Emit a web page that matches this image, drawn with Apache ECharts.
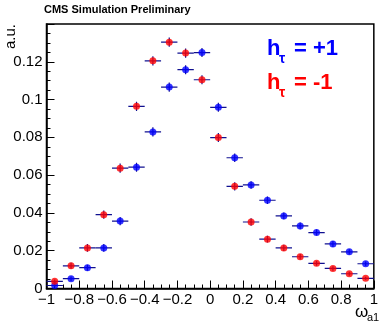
<!DOCTYPE html>
<html>
<head>
<meta charset="utf-8">
<script src="https://cdn.jsdelivr.net/npm/echarts@6/dist/echarts.min.js"></script>
<style>
html,body{margin:0;padding:0;background:#fff;}
#c{width:381px;height:321px;}
</style>
</head>
<body>
<div id="c"></div>
<script>
// ---- data ----
const binCenters = [-0.95,-0.85,-0.75,-0.65,-0.55,-0.45,-0.35,-0.25,-0.15,-0.05,0.05,0.15,0.25,0.35,0.45,0.55,0.65,0.75,0.85,0.95];
const binWidth = 0.1;
const bluePlus = [0.0016,0.0052,0.0110,0.0215,0.0357,0.0642,0.0829,0.1066,0.1158,0.1249,0.0959,0.0692,0.0548,0.0467,0.0384,0.0331,0.0296,0.0236,0.0194,0.0131];
const blueErr  = [0.0008,0.0012,0.0016,0.0020,0.0022,0.0024,0.0024,0.0024,0.0024,0.0024,0.0024,0.0022,0.0020,0.0020,0.0018,0.0018,0.0016,0.0016,0.0014,0.0012];
const redMinus = [0.0038,0.0120,0.0215,0.0391,0.0637,0.0964,0.1205,0.1304,0.1246,0.1105,0.0799,0.0541,0.0352,0.0261,0.0215,0.0168,0.0133,0.0106,0.0078,0.0054];
const redErr   = [0.0010,0.0016,0.0020,0.0022,0.0024,0.0024,0.0024,0.0024,0.0024,0.0024,0.0024,0.0022,0.0020,0.0018,0.0016,0.0014,0.0012,0.0012,0.0010,0.0008];
const xTicks = [-1,-0.8,-0.6,-0.4,-0.2,0,0.2,0.4,0.6,0.8,1];
const yTicks = [0,0.02,0.04,0.06,0.08,0.1,0.12];
const titleText = 'CMS Simulation Preliminary';
const yTitle = 'a.u.';

const FONT = '"Liberation Sans", Arial, Helvetica, sans-serif';
const barColor = '#101090';

function triples(vals, errs){ return binCenters.map((x,i)=>[x, vals[i], errs[i]]); }

function errRender(params, api){
  const x = api.value(0), y = api.value(1), e = api.value(2);
  const l = api.coord([x - binWidth/2, y]);
  const r = api.coord([x + binWidth/2, y]);
  const t = api.coord([x, y + e]);
  const b = api.coord([x, y - e]);
  return {type:'group', children:[
    {type:'line', shape:{x1:l[0],y1:l[1],x2:r[0],y2:r[1]}, style:{stroke:barColor,lineWidth:1.2}},
    {type:'line', shape:{x1:t[0],y1:t[1],x2:b[0],y2:b[1]}, style:{stroke:barColor,lineWidth:1.2}}
  ]};
}

function fmtX(v){
  const r = Math.round(v*10)/10;
  return r < 0 ? '\u2212' + Math.abs(r) : String(Math.abs(r));
}
function fmtY(v){
  const r = parseFloat(v.toFixed(4));
  return yTicks.some(t=>Math.abs(t-r)<1e-9) ? String(r) : '';
}

const chart = echarts.init(document.getElementById('c'), null, {renderer:'canvas'});
chart.setOption({
  animation:false,
  backgroundColor:'#fff',
  grid:{left:46.5, right:1.5, top:24, bottom:32.5, show:true, borderColor:'#000', borderWidth:1.5, containLabel:false},
  xAxis:{
    type:'value', min:-1, max:1, interval:0.2,
    axisLine:{onZero:false, lineStyle:{color:'#000', width:1.5}},
    axisTick:{inside:true, length:8, lineStyle:{color:'#000', width:1}},
    minorTick:{show:true, splitNumber:4, length:4, lineStyle:{color:'#000', width:1}},
    splitLine:{show:false},
    axisLabel:{formatter:fmtX, color:'#000', fontSize:15, fontFamily:FONT, margin:4, showMaxLabel:true, showMinLabel:true, hideOverlap:false}
  },
  yAxis:{
    type:'value', min:0, max:0.14, interval:0.02,
    axisLine:{onZero:false, lineStyle:{color:'#000', width:1.5}},
    axisTick:{inside:true, length:8, lineStyle:{color:'#000', width:1}},
    minorTick:{show:true, splitNumber:4, length:4, lineStyle:{color:'#000', width:1}},
    splitLine:{show:false},
    axisLabel:{formatter:fmtY, color:'#000', fontSize:15, fontFamily:FONT, margin:4, showMaxLabel:false}
  },
  graphic:[
    {type:'text', left:44, top:4, style:{text:titleText, fontSize:11, fontWeight:'bold', fontFamily:FONT, fill:'#000'}},
    {type:'text', x:18, y:24, rotation:Math.PI/2, style:{text:yTitle, fontSize:15, fontFamily:FONT, fill:'#000', align:'right', verticalAlign:'bottom'}},
    {type:'text', x:355, y:312, style:{text:'\u03c9', fontSize:17, fontFamily:FONT, fill:'#000', verticalAlign:'middle'}},
    {type:'text', x:367, y:318, style:{text:'a1', fontSize:11, fontFamily:FONT, fill:'#000', verticalAlign:'middle'}},
    {type:'text', x:267, y:60, style:{text:'h', fontSize:22, fontWeight:'bold', fontFamily:FONT, fill:'#0000ff', verticalAlign:'bottom'}},
    {type:'text', x:279, y:66, style:{text:'\u03c4', fontSize:14, fontWeight:'bold', fontFamily:FONT, fill:'#0000ff', verticalAlign:'bottom'}},
    {type:'text', x:294, y:60, style:{text:'= +1', fontSize:22, fontWeight:'bold', fontFamily:FONT, fill:'#0000ff', verticalAlign:'bottom'}},
    {type:'text', x:267, y:94, style:{text:'h', fontSize:22, fontWeight:'bold', fontFamily:FONT, fill:'#ff0000', verticalAlign:'bottom'}},
    {type:'text', x:279, y:100, style:{text:'\u03c4', fontSize:14, fontWeight:'bold', fontFamily:FONT, fill:'#ff0000', verticalAlign:'bottom'}},
    {type:'text', x:294, y:94, style:{text:'= -1', fontSize:22, fontWeight:'bold', fontFamily:FONT, fill:'#ff0000', verticalAlign:'bottom'}}
  ],
  series:[
    {type:'custom', name:'err+', renderItem:errRender, data:triples(bluePlus, blueErr), z:2, clip:true},
    {type:'custom', name:'err-', renderItem:errRender, data:triples(redMinus, redErr), z:2, clip:true},
    {type:'scatter', name:'h=+1', data:binCenters.map((x,i)=>[x,bluePlus[i]]), symbol:'circle', symbolSize:7, itemStyle:{color:'#0000ff'}, z:3},
    {type:'scatter', name:'h=-1', data:binCenters.map((x,i)=>[x,redMinus[i]]), symbol:'circle', symbolSize:7, itemStyle:{color:'#ff0000'}, z:3}
  ]
});
</script>
</body>
</html>
